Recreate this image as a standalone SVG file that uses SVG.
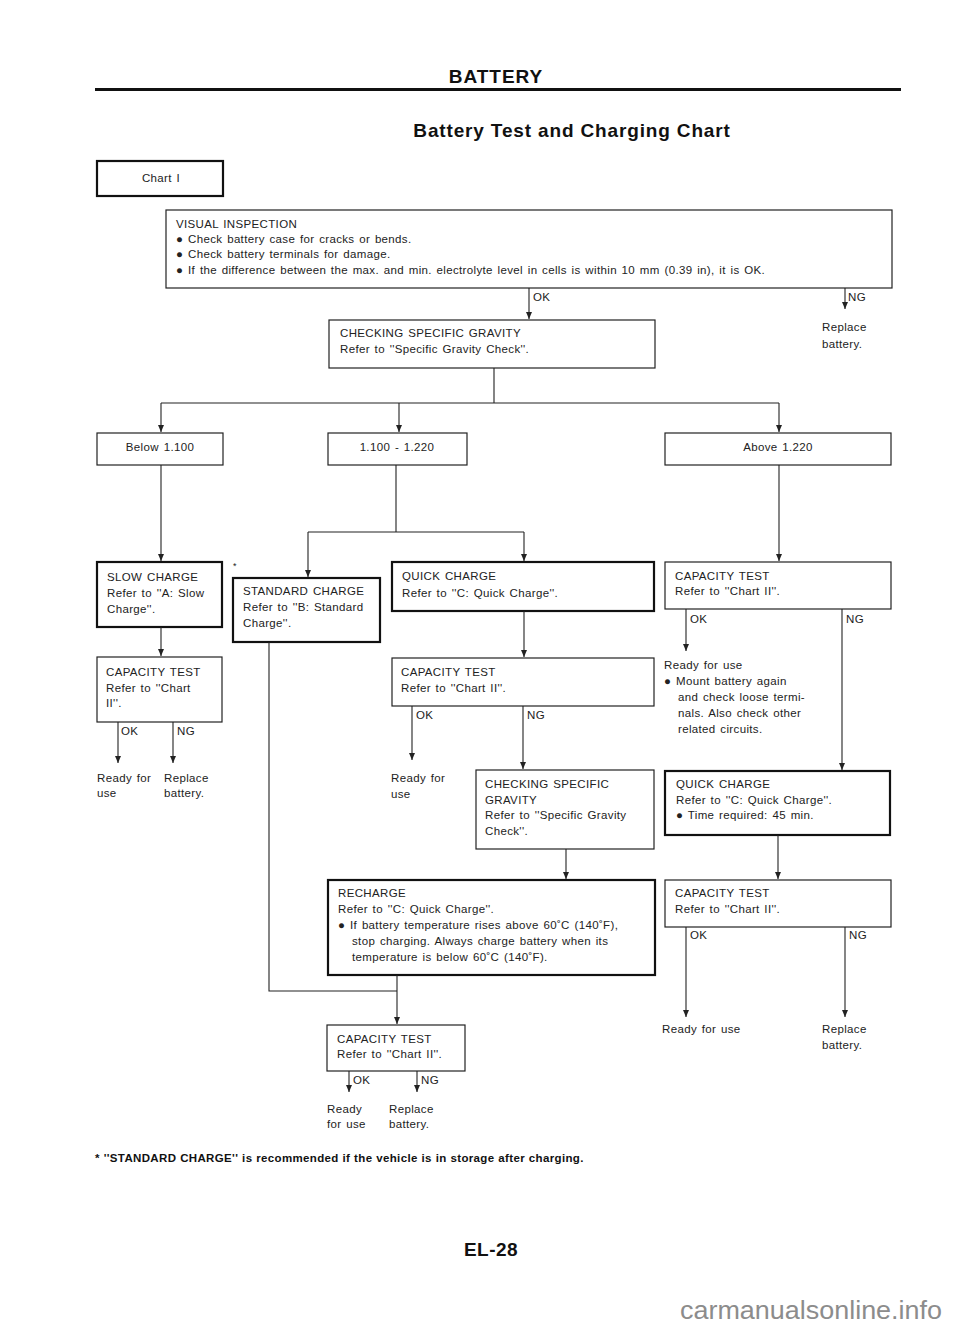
<svg xmlns="http://www.w3.org/2000/svg" width="960" height="1325" viewBox="0 0 960 1325">
<style>
text{font-family:"Liberation Sans",Arial,sans-serif;font-size:11.5px;fill:#222;letter-spacing:0.35px;word-spacing:1.2px}
.b{fill:#fff;stroke:#222;stroke-width:1.2}
.t{fill:#fff;stroke:#111;stroke-width:2.2}
.c{fill:none;stroke:#222;stroke-width:1.1}
.h{font-weight:bold;fill:#111}
.m{text-anchor:middle}
</style>
<defs>
<marker id="a" markerUnits="userSpaceOnUse" markerWidth="8" markerHeight="8" refX="7" refY="3" orient="auto">
<path d="M0,0 L7,3 L0,6 z" fill="#222"/>
</marker>
</defs>
<rect width="960" height="1325" fill="#fff"/>
<text class="h m" x="496" y="83" style="font-size:19px;letter-spacing:1px;word-spacing:0">BATTERY</text>
<rect x="95" y="88" width="806" height="3" fill="#111"/>
<text class="h m" x="572" y="137" style="font-size:19px;letter-spacing:0.85px;word-spacing:0">Battery Test and Charging Chart</text>

<g id="chart1"><rect class="t" x="97" y="161" width="126" height="35"/><text class="m" x="161" y="182">Chart I</text></g>

<g id="visual"><rect class="b" x="166" y="210" width="726" height="78"/>
<text x="176" y="228">VISUAL INSPECTION</text>
<text x="176" y="243">● Check battery case for cracks or bends.</text>
<text x="176" y="258">● Check battery terminals for damage.</text>
<text x="176" y="274">● If the difference between the max. and min. electrolyte level in cells is within 10 mm (0.39 in), it is OK.</text></g>

<g id="replace1"><text x="822" y="331">Replace</text><text x="822" y="348">battery.</text></g>

<g id="csg1"><rect class="b" x="329" y="320" width="326" height="48"/>
<text x="340" y="337">CHECKING SPECIFIC GRAVITY</text>
<text x="340" y="353">Refer to ''Specific Gravity Check''.</text></g>

<g id="below"><rect class="b" x="97" y="433" width="126" height="32"/><text class="m" x="160" y="451">Below 1.100</text></g>
<g id="mid"><rect class="b" x="328" y="433" width="139" height="32"/><text class="m" x="397" y="451">1.100 - 1.220</text></g>
<g id="above"><rect class="b" x="665" y="433" width="226" height="32"/><text class="m" x="778" y="451">Above 1.220</text></g>

<g id="slow"><rect class="t" x="97" y="562" width="125" height="65"/>
<text x="107" y="581">SLOW CHARGE</text><text x="107" y="597">Refer to ''A: Slow</text><text x="107" y="613">Charge''.</text></g>

<g id="cap1"><rect class="b" x="97" y="657" width="125" height="65"/>
<text x="106" y="676">CAPACITY TEST</text><text x="106" y="692">Refer to ''Chart</text><text x="106" y="707">II''.</text></g>
<g id="res1"><text x="97" y="782">Ready for</text><text x="97" y="797">use</text><text x="164" y="782">Replace</text><text x="164" y="797">battery.</text></g>

<text x="233" y="569" style="font-size:9px">*</text>
<g id="standard"><rect class="t" x="233" y="578" width="147" height="64"/>
<text x="243" y="595">STANDARD CHARGE</text><text x="243" y="611">Refer to ''B: Standard</text><text x="243" y="627">Charge''.</text></g>

<g id="quick1"><rect class="t" x="392" y="562" width="262" height="49"/>
<text x="402" y="580">QUICK CHARGE</text><text x="402" y="597">Refer to ''C: Quick Charge''.</text></g>

<g id="cap2"><rect class="b" x="392" y="658" width="262" height="48"/>
<text x="401" y="676">CAPACITY TEST</text><text x="401" y="692">Refer to ''Chart II''.</text></g>
<g id="res2"><text x="391" y="782">Ready for</text><text x="391" y="798">use</text></g>

<g id="csg2"><rect class="b" x="476" y="770" width="178" height="79"/>
<text x="485" y="788">CHECKING SPECIFIC</text><text x="485" y="804">GRAVITY</text><text x="485" y="819">Refer to ''Specific Gravity</text><text x="485" y="835">Check''.</text></g>

<g id="cap3"><rect class="b" x="665" y="562" width="226" height="47"/>
<text x="675" y="580">CAPACITY TEST</text><text x="675" y="595">Refer to ''Chart II''.</text></g>
<g id="res3"><text x="664" y="669">Ready for use</text>
<text x="664" y="685">● Mount battery again</text>
<text x="678" y="701">and check loose termi-</text>
<text x="678" y="717">nals. Also check other</text>
<text x="678" y="733">related circuits.</text></g>

<g id="quick2"><rect class="t" x="665" y="771" width="225" height="64"/>
<text x="676" y="788">QUICK CHARGE</text><text x="676" y="804">Refer to ''C: Quick Charge''.</text><text x="676" y="819">● Time required: 45 min.</text></g>

<g id="cap4"><rect class="b" x="665" y="880" width="226" height="47"/>
<text x="675" y="897">CAPACITY TEST</text><text x="675" y="913">Refer to ''Chart II''.</text></g>
<g id="res4"><text x="662" y="1033">Ready for use</text><text x="822" y="1033">Replace</text><text x="822" y="1049">battery.</text></g>

<g id="recharge"><rect class="t" x="328" y="880" width="327" height="95"/>
<text x="338" y="897">RECHARGE</text>
<text x="338" y="913">Refer to ''C: Quick Charge''.</text>
<text x="338" y="929">● If battery temperature rises above 60˚C (140˚F),</text>
<text x="352" y="945">stop charging. Always charge battery when its</text>
<text x="352" y="961">temperature is below 60˚C (140˚F).</text></g>

<g id="cap5"><rect class="b" x="327" y="1025" width="138" height="46"/>
<text x="337" y="1043">CAPACITY TEST</text><text x="337" y="1058">Refer to ''Chart II''.</text></g>
<g id="res5"><text x="327" y="1113">Ready</text><text x="327" y="1128">for use</text><text x="389" y="1113">Replace</text><text x="389" y="1128">battery.</text></g>

<g id="connectors">
<path class="c" d="M529,288 V319" marker-end="url(#a)"/>
<path class="c" d="M845,288 V309" marker-end="url(#a)"/>
<path class="c" d="M494,368 V403 M161,403 H779"/>
<path class="c" d="M161,403 V432" marker-end="url(#a)"/>
<path class="c" d="M399,403 V432" marker-end="url(#a)"/>
<path class="c" d="M779,403 V432" marker-end="url(#a)"/>
<path class="c" d="M161,465 V561" marker-end="url(#a)"/>
<path class="c" d="M161,627 V656" marker-end="url(#a)"/>
<path class="c" d="M118,722 V763" marker-end="url(#a)"/>
<path class="c" d="M173,722 V763" marker-end="url(#a)"/>
<path class="c" d="M396,465 V532 M308,532 H524"/>
<path class="c" d="M308,532 V577" marker-end="url(#a)"/>
<path class="c" d="M524,532 V561" marker-end="url(#a)"/>
<path class="c" d="M524,611 V657" marker-end="url(#a)"/>
<path class="c" d="M412,706 V760" marker-end="url(#a)"/>
<path class="c" d="M523,706 V769" marker-end="url(#a)"/>
<path class="c" d="M566,849 V879" marker-end="url(#a)"/>
<path class="c" d="M779,465 V561" marker-end="url(#a)"/>
<path class="c" d="M686,609 V651" marker-end="url(#a)"/>
<path class="c" d="M842,609 V770" marker-end="url(#a)"/>
<path class="c" d="M778,835 V879" marker-end="url(#a)"/>
<path class="c" d="M686,927 V1017" marker-end="url(#a)"/>
<path class="c" d="M845,927 V1017" marker-end="url(#a)"/>
<path class="c" d="M269,642 V991 H397"/>
<path class="c" d="M397,975 V1024" marker-end="url(#a)"/>
<path class="c" d="M349,1071 V1092" marker-end="url(#a)"/>
<path class="c" d="M417,1071 V1092" marker-end="url(#a)"/>
</g>
<g id="labels">
<text x="533" y="301">OK</text><text x="848" y="301">NG</text>
<text x="121" y="735">OK</text><text x="177" y="735">NG</text>
<text x="416" y="719">OK</text><text x="527" y="719">NG</text>
<text x="690" y="623">OK</text><text x="846" y="623">NG</text>
<text x="690" y="939">OK</text><text x="849" y="939">NG</text>
<text x="353" y="1084">OK</text><text x="421" y="1084">NG</text>
</g>

<text class="h" x="95" y="1162" style="font-size:11.5px;letter-spacing:0.35px;word-spacing:0.3px">* ''STANDARD CHARGE'' is recommended if the vehicle is in storage after charging.</text>
<text class="h m" x="491" y="1256" style="font-size:19px;letter-spacing:0.5px;word-spacing:0">EL-28</text>
<text x="680" y="1319" textLength="262" lengthAdjust="spacingAndGlyphs" style="font-size:25px;fill:#8c8c8c;letter-spacing:0;word-spacing:0">carmanualsonline.info</text>
</svg>
